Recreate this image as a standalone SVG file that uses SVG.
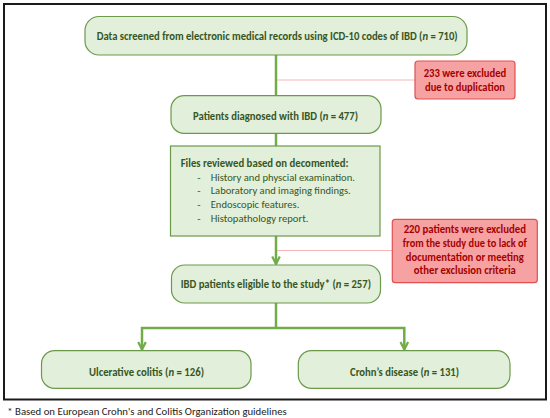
<svg xmlns="http://www.w3.org/2000/svg" width="550" height="418" viewBox="0 0 550 418">
<defs>
<style>
.frame{fill:#ffffff;stroke:#1a1a1a;stroke-width:2}
.gbox{fill:#e2efda;stroke:#6b9a4b;stroke-width:1.2}
.rbox{fill:#f6a2a2;stroke:#e05050;stroke-width:1.2}
.conn{fill:none;stroke:#70ad47;stroke-width:2.5}
.pink{fill:none;stroke:#f5b5b5;stroke-width:1}
text{font-family:Carlito,Lato,"Liberation Sans",sans-serif}
.gt{fill:#375623;font-weight:bold;font-size:11px}
.gr{fill:#375623;font-size:11px}
.rt{fill:#a50000;font-weight:bold;font-size:11px;text-anchor:middle}
.it{font-style:italic}
.fn{fill:#222222;font-size:11px}
</style>
<marker id="arr" markerUnits="userSpaceOnUse" markerWidth="14" markerHeight="14" viewBox="-8 -7 14 14" refX="0" refY="0" orient="auto" overflow="visible">
<path d="M-7.5,-3.8 L0,0 L-7.5,3.8" fill="none" stroke="#70ad47" stroke-width="2.2"/>
</marker>
</defs>
<rect class="frame" x="4" y="4" width="542" height="395.5"/>
<g id="connectors">
<line class="conn" x1="276" y1="55" x2="276" y2="96"/>
<line class="pink" x1="277" y1="80" x2="415" y2="80"/>
<line class="conn" x1="276" y1="133" x2="276" y2="146"/>
<line class="conn" x1="276" y1="236" x2="276" y2="264" marker-end="url(#arr)"/>
<line class="pink" x1="277" y1="250.5" x2="392" y2="250.5"/>
<path class="conn" d="M276,303 V328"/>
<path class="conn" d="M276,328 H142 V349.5" marker-end="url(#arr)"/>
<path class="conn" d="M276,328 H404.3 V349.5" marker-end="url(#arr)"/>
</g>
<g id="n-screened">
<rect class="gbox" x="85" y="16.5" width="382" height="38.5" rx="14"/>
<text class="gt" x="96.7" y="39.5" textLength="361" lengthAdjust="spacingAndGlyphs">Data screened from electronic medical records using ICD-10 codes of IBD (<tspan class="it">n</tspan> = 710)</text>
</g>
<g id="n-excluded-dup">
<rect class="rbox" x="415" y="61" width="100" height="38" rx="3"/>
<text class="rt" x="465" y="76.7" textLength="82.7" lengthAdjust="spacingAndGlyphs">233 were excluded</text>
<text class="rt" x="465" y="90.7" textLength="80" lengthAdjust="spacingAndGlyphs">due to duplication</text>
</g>
<g id="n-diagnosed">
<rect class="gbox" x="171" y="95.7" width="210" height="37.6" rx="13"/>
<text class="gt" x="193" y="120" textLength="165" lengthAdjust="spacingAndGlyphs">Patients diagnosed with IBD (<tspan class="it">n</tspan> = 477)</text>
</g>
<g id="n-files">
<rect class="gbox" x="170.5" y="146" width="209.5" height="90"/>
<text class="gt" x="180.7" y="166.7" textLength="167.7" lengthAdjust="spacingAndGlyphs">Files reviewed based on decomented:</text>
<text class="gr" x="197.2" y="180.6">-</text>
<text class="gr" x="210.7" y="180.6" textLength="144.3" lengthAdjust="spacingAndGlyphs">History and physcial examination.</text>
<text class="gr" x="197.2" y="194.2">-</text>
<text class="gr" x="210.7" y="194.2" textLength="140" lengthAdjust="spacingAndGlyphs">Laboratory and imaging findings.</text>
<text class="gr" x="197.2" y="207.9">-</text>
<text class="gr" x="210.7" y="207.9" textLength="88.7" lengthAdjust="spacingAndGlyphs">Endoscopic features.</text>
<text class="gr" x="197.2" y="221.6">-</text>
<text class="gr" x="210.7" y="221.6" textLength="97.7" lengthAdjust="spacingAndGlyphs">Histopathology report.</text>
</g>
<g id="n-excluded-doc">
<rect class="rbox" x="392.3" y="219.3" width="145" height="63.4" rx="3"/>
<text class="rt" x="464.8" y="233.3" textLength="122.3" lengthAdjust="spacingAndGlyphs">220 patients were excluded</text>
<text class="rt" x="464.8" y="247" textLength="124" lengthAdjust="spacingAndGlyphs">from the study due to lack of</text>
<text class="rt" x="464.8" y="260.7" textLength="118" lengthAdjust="spacingAndGlyphs">documentation or meeting</text>
<text class="rt" x="464.8" y="274.3" textLength="102" lengthAdjust="spacingAndGlyphs">other exclusion criteria</text>
</g>
<g id="n-eligible">
<rect class="gbox" x="171.5" y="265" width="209" height="38" rx="13"/>
<text class="gt" x="180.7" y="287.8" textLength="190.3" lengthAdjust="spacingAndGlyphs">IBD patients eligible to the study* (<tspan class="it">n</tspan> = 257)</text>
</g>
<g id="n-uc">
<rect class="gbox" x="41.5" y="350.7" width="209.5" height="37.6" rx="13"/>
<text class="gt" x="89" y="375.5" textLength="115" lengthAdjust="spacingAndGlyphs">Ulcerative colitis (<tspan class="it">n</tspan> = 126)</text>
</g>
<g id="n-cd">
<rect class="gbox" x="298.3" y="350.7" width="211.7" height="37.6" rx="13"/>
<text class="gt" x="350" y="375.5" textLength="109" lengthAdjust="spacingAndGlyphs">Crohn’s disease (<tspan class="it">n</tspan> = 131)</text>
</g>
<text class="fn" x="7.3" y="415" textLength="279.4" lengthAdjust="spacingAndGlyphs">* Based on European Crohn's and Colitis Organization guidelines</text>
</svg>
